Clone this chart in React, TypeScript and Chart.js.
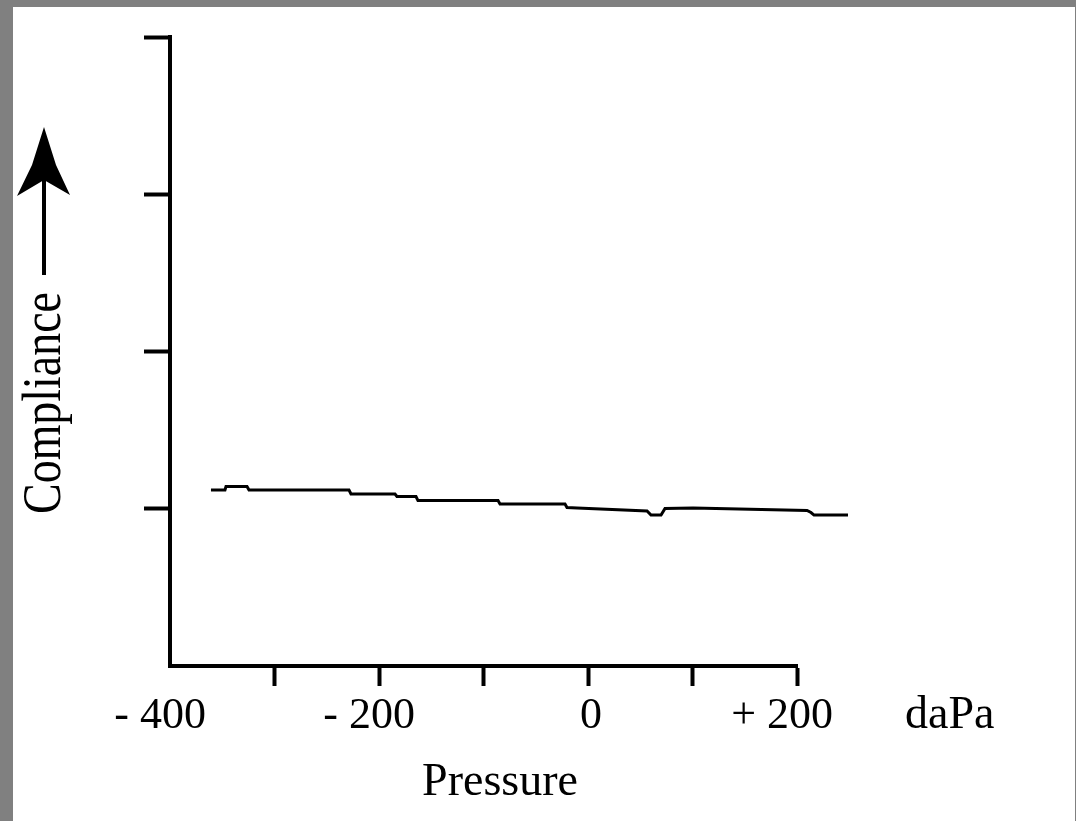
import { useEffect, useRef } from "react";
import { Chart, registerables } from "chart.js";

Chart.register(...registerables);

// Tympanogram trace: pressure (daPa) vs compliance (relative units)
const pressure = [
  -360.8, -347.4, -346.4, -326.3, -324.4, -228.7, -226.8, -184.7, -182.8, -164.6,
  -162.7, -86.1, -84.2, -22.0, -20.1, -10.5, 56.5, 60.3, 69.9, 73.7,
  100.5, 209.6, 213.4, 216.3, 248.8,
];
const compliance = [
  1.119, 1.119, 1.141, 1.141, 1.119, 1.119, 1.094, 1.094, 1.078, 1.078,
  1.052, 1.052, 1.03, 1.03, 1.008, 1.005, 0.986, 0.96, 0.96, 1.002,
  1.005, 0.989, 0.976, 0.96, 0.96,
];

const xTickValues = [-400, -200, 0, 200];
const xTickLabels = ["- 400", "- 200", "0", "+ 200"];
const unitLabel = "daPa";
const xTitle = "Pressure";
const yTitle = "Compliance";

const X_MIN = -400;
const X_MAX = 200;
const Y_MIN = 0;
const Y_MAX = 4;

const W = 1076;
const H = 821;

const frame = {
  id: "frame",
  beforeDraw(chart: any) {
    const c = chart.ctx;
    c.save();
    c.fillStyle = "#808080";
    c.fillRect(0, 0, chart.width, chart.height);
    c.fillStyle = "#ffffff";
    c.fillRect(13, 7, chart.width - 14, chart.height - 7);
    c.restore();
  },
  afterDraw(chart: any) {
    const ctx = chart.ctx;
    const xs = chart.scales.x;
    ctx.save();
    ctx.fillStyle = "#000";
    ctx.textBaseline = "alphabetic";
    ctx.textAlign = "left";
    ctx.font = '44px "Liberation Serif"';
    xTickValues.forEach((v, i) => {
      const label = xTickLabels[i];
      const digits = label.replace(/^[-+]\s*/, "");
      const w = ctx.measureText(label).width;
      const d = ctx.measureText(digits).width;
      const px = xs.getPixelForValue(v);
      ctx.fillText(label, px - d / 2 + 3 - (w - d), 728);
    });
    ctx.font = '46px "Liberation Serif"';
    ctx.fillText(unitLabel, 905, 728);

    ctx.textAlign = "center";
    ctx.font = '46px "Liberation Serif"';
    ctx.fillText(xTitle, 500, 795);

    // rotated y title
    ctx.save();
    ctx.translate(60, 403);
    ctx.rotate(-Math.PI / 2);
    ctx.scale(0.85, 1);
    ctx.font = '54px "Liberation Serif"';
    ctx.textAlign = "center";
    ctx.fillText(yTitle, 0, 0);
    ctx.restore();

    // arrow
    ctx.fillRect(42, 176, 4, 99);
    ctx.beginPath();
    ctx.moveTo(44, 127);
    ctx.lineTo(56, 165);
    ctx.lineTo(70, 195);
    ctx.lineTo(44, 180);
    ctx.lineTo(17, 196);
    ctx.lineTo(32, 165);
    ctx.closePath();
    ctx.fill();
    ctx.restore();
  },
};

export default function App() {
  const ref = useRef<HTMLCanvasElement>(null);

  useEffect(() => {
    const canvas = ref.current;
    if (!canvas) return;
    const points = pressure.map((p, i) => ({ x: p, y: compliance[i] }));
    const chart = new Chart(canvas, {
      type: "line",
      data: {
        datasets: [
          {
            data: points,
            borderColor: "#000",
            borderWidth: 3,
            pointRadius: 0,
            tension: 0,
            fill: false,
            clip: false as any,
          },
        ],
      },
      options: {
        responsive: false,
        animation: false,
        devicePixelRatio: 1,
        layout: { padding: { left: 0, top: 37, right: W - 797, bottom: 0 } },
        plugins: {
          legend: { display: false },
          tooltip: { enabled: false },
        },
        scales: {
          x: {
            type: "linear",
            position: "bottom",
            afterDataLimits(s: any) {
              s.min = X_MIN;
              s.max = X_MAX;
            },
            afterFit(s: any) {
              s.height = H - 666;
            },
            ticks: { stepSize: 100, display: false },
            grid: {
              drawOnChartArea: false,
              drawTicks: true,
              tickLength: 20,
              tickWidth: 4,
              tickColor: (c: any) =>
                c.tick && c.tick.value === X_MIN ? "rgba(0,0,0,0)" : "#000",
            },
            border: { display: true, color: "#000", width: 4 },
          },
          y: {
            type: "linear",
            position: "left",
            min: Y_MIN,
            max: Y_MAX,
            afterFit(s: any) {
              s.width = 170;
            },
            ticks: { stepSize: 1, display: false },
            grid: {
              drawOnChartArea: false,
              drawTicks: true,
              tickLength: 26,
              tickWidth: 4,
              tickColor: (c: any) =>
                c.tick && c.tick.value === Y_MIN ? "rgba(0,0,0,0)" : "#000",
            },
            border: { display: true, color: "#000", width: 4 },
          },
        },
      },
      plugins: [frame],
    });
    return () => chart.destroy();
  }, []);

  return (
    <div style={{ position: "fixed", left: 0, top: 0, width: W, height: H }}>
      <canvas
        ref={ref}
        width={W}
        height={H}
        style={{ display: "block", width: W, height: H }}
      />
    </div>
  );
}
